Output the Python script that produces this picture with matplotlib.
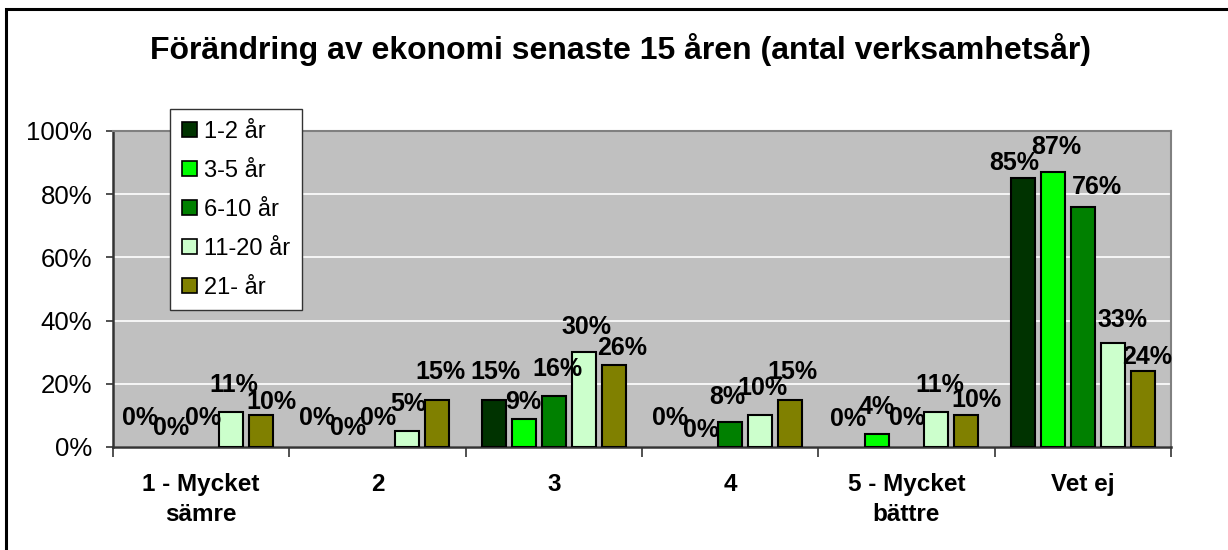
import matplotlib.pyplot as plt
from matplotlib.patches import Rectangle

categories = ["1 - Mycket\nsämre", "2", "3", "4", "5 - Mycket\nbättre", "Vet ej"]
series_names = ["1-2 år", "3-5 år", "6-10 år", "11-20 år", "21- år"]
colors = ["#003300", "#00FF00", "#008000", "#CCFFCC", "#808000"]

v_1_2 = [0, 0, 15, 0, 0, 85]
v_3_5 = [0, 0, 9, 0, 4, 87]
v_6_10 = [0, 0, 16, 8, 0, 76]
v_11_20 = [11, 5, 30, 10, 11, 33]
v_21 = [10, 15, 26, 15, 10, 24]
values = [v_1_2, v_3_5, v_6_10, v_11_20, v_21]

# label nudges (pixels) to mimic the Excel placement
label_dx = [
    [-1, 0, 2, 0, 2, -9],
    [0, 1, -1, 1, 0, 3],
    [2, 1, 4, -3, 1, 14],
    [3, 1, 3, 2, 3, 10],
    [10, 3, 8, 2, 10, 4],
]
label_dy = [
    [29, 29, 28, 29, 28, 15],
    [19, 19, 17, 17, 27, 25],
    [29, 29, 27, 25, 29, 20],
    [27, 27, 25, 27, 27, 23],
    [13, 28, 17, 28, 15, 14],
]

plt.rcParams["font.family"] = ["Liberation Sans", "DejaVu Sans"]

fig = plt.figure(figsize=(12.28, 5.5), dpi=100)
ax = fig.add_axes([113 / 1228, 103 / 550, 1058 / 1228, 316 / 550])
ax.set_facecolor("#C0C0C0")

step = 0.17
width = 0.136
x = list(range(len(categories)))
for i, (name, vals) in enumerate(zip(series_names, values)):
    xs = [xx + (i - 2) * step for xx in x]
    lws = [1.5 if v > 0 else 0 for v in vals]
    ax.bar(xs, vals, width, color=colors[i], edgecolor="black", linewidth=lws,
           label=name, zorder=3)
    for j, v in enumerate(vals):
        ax.annotate(f"{v}%", xy=(xs[j], v), xytext=(label_dx[i][j], label_dy[i][j]),
                    textcoords="offset pixels", ha="center", va="center",
                    fontsize=18, fontweight="bold", zorder=4)

ax.set_xlim(-0.5, 5.5)
ax.set_ylim(0, 100)
ax.set_yticks([0, 20, 40, 60, 80, 100])
ax.set_yticklabels([f"{t}%" for t in range(0, 101, 20)], fontsize=18.5)
ax.yaxis.grid(True, color="white", linewidth=1.2, zorder=0)
ax.set_axisbelow(True)

ax.set_xticks(x)
ax.set_xticklabels(categories, fontsize=17.5, fontweight="bold", linespacing=1.35)
ax.set_xticks([k - 0.5 for k in range(len(categories) + 1)], minor=True)
ax.tick_params(axis="x", which="major", length=0, pad=19)
ax.tick_params(axis="x", which="minor", length=7, width=1.2, color="#333333")
ax.tick_params(axis="y", length=5, width=1.2, color="#333333", pad=10)

for s in ["left", "bottom"]:
    ax.spines[s].set_color("#333333")
    ax.spines[s].set_linewidth(1.8)
for s in ["top", "right"]:
    ax.spines[s].set_color("#808080")
    ax.spines[s].set_linewidth(1.5)

leg = ax.legend(loc="upper left", bbox_to_anchor=(0.054, 1.07), fontsize=17,
                handlelength=0.62, handleheight=0.62, handletextpad=0.3,
                labelspacing=0.72, borderpad=0.5, borderaxespad=0,
                fancybox=False, framealpha=1, edgecolor="#333333")
leg.get_frame().set_linewidth(1.0)
for h in leg.legend_handles:
    h.set_edgecolor("black")
    h.set_linewidth(1.2)

fig.text(620 / 1228, 1 - 50 / 550, "Förändring av ekonomi senaste 15 åren (antal verksamhetsår)",
         ha="center", va="center", fontsize=23, fontweight="bold")

fig.add_artist(Rectangle((6 / 1228, -0.1), 1.2, 1.1 - 9 / 550, transform=fig.transFigure,
                         fill=False, edgecolor="black", linewidth=2.2, clip_on=False))

fig.savefig("out.png", dpi=100)
